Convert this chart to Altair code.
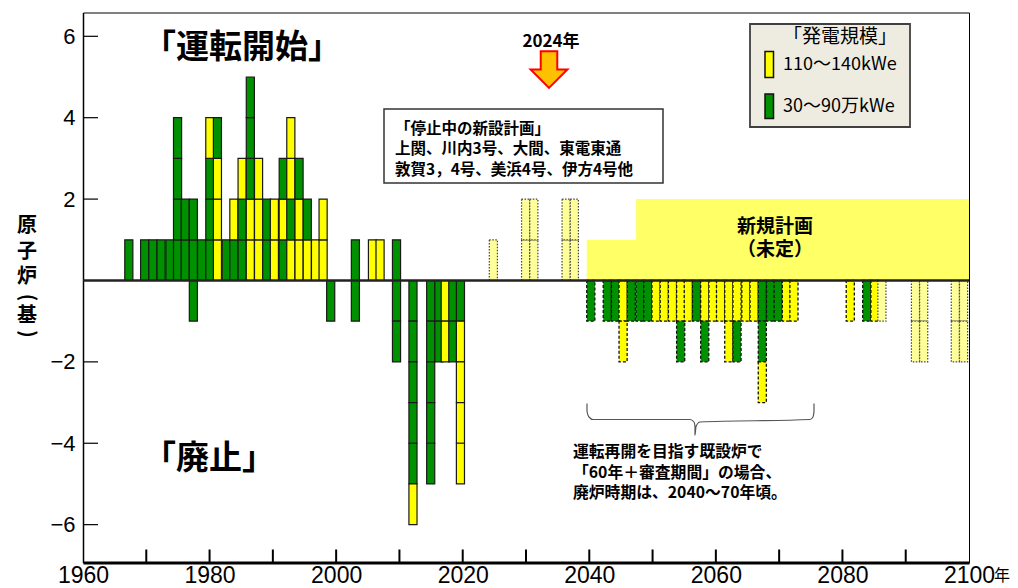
import altair as alt
import pandas as pd

# ---------------- data ----------------
# Reactors that started operation: left-edge year of each column and the
# stacked blocks bottom-up (G = 30～90万kWe green, Y = 110～140kWe yellow)
start_years = [1966.6, 1969.1, 1970.4, 1971.7, 1973.1, 1974.3, 1975.5, 1976.8,
               1978.1, 1979.4, 1980.6, 1982.0, 1983.2, 1984.5, 1985.8, 1987.1,
               1988.4, 1989.6, 1991.0, 1992.2, 1993.5, 1994.8, 1996.1, 1997.3,
               2002.4, 2005.1, 2006.3, 2008.9]
start_stacks = ["G", "G", "G", "G", "G", "GGGG", "GG", "GG",
                "G", "GGGY", "YYYG", "G", "GY", "GGY", "YYGGG", "YYY",
                "GG", "YY", "GYG", "YGYY", "YYG", "YG", "Y", "YY",
                "G", "Y", "Y", "G"]

# Decommissioned reactors (below zero)
closed_years = [1976.8, 1998.5, 2002.4, 2008.9, 2011.5, 2014.3, 2015.6, 2016.6, 2017.8, 2019.0]
closed_stacks = ["G", "G", "G", "GG", "GGGGGY", "GGGGG", "GG", "YY", "GG", "GYYYY"]

# Suspended new-build plans (pale, dotted)
plan_years = [2024.2, 2029.3, 2030.6, 2035.7, 2037.0]
plan_counts = [1, 2, 2, 2, 2]

# Future decommissioning of existing reactors aiming to restart (dashed)
future_years = [2039.6, 2042.2, 2043.5, 2044.7, 2046.0, 2047.4, 2048.6, 2049.9,
                2051.2, 2052.5, 2053.8, 2055.0, 2056.3, 2057.6, 2058.9, 2060.1,
                2061.4, 2062.7, 2064.1, 2065.4, 2066.7, 2068.0, 2069.2, 2070.5,
                2071.7, 2080.6, 2083.2, 2084.5]
future_stacks = ["G", "G", "G", "YY", "G", "G", "G", "Y",
                 "Y", "Y", "YG", "Y", "G", "YG", "Y", "Y",
                 "YY", "YG", "Y", "Y", "GGY", "G", "G", "Y",
                 "Y", "Y", "G", "Y"]

# Future decommissioning of the suspended new builds (pale, dotted)
future_plan_years = [2085.6, 2090.9, 2092.2, 2097.2, 2098.5]
future_plan_counts = [1, 2, 2, 2, 2]

# New plans (undetermined): start year and level of each step
newplan_from = [2039.6, 2047.4]
newplan_level = [1, 2]

y_tick_values = [-6, -4, -2, 2, 4, 6]
x_label_values = [1960, 1980, 2000, 2020, 2040, 2060, 2080, 2100]
x_tick_values = [1970, 1980, 1990, 2000, 2010, 2020, 2030, 2040, 2050, 2060, 2070, 2080, 2090]

y_title_chars = ["原", "子", "炉", "基"]
y_title_parens = ["(", ")"]

box1_lines = ["「停止中の新設計画」", "上関、川内3号、大間、東電東通", "敦賀3，4号、美浜4号、伊方4号他"]
note_lines = ["運転再開を目指す既設炉で", "「60年＋審査期間」の場合、", "廃炉時期は、2040～70年頃。"]
newplan_lines = ["新規計画", "（未定）"]

# ---------------- styling ----------------
W, H = 886, 550
BW = 1.28  # block width in years
GREEN, YELLOW, PALE, AREA = "#009100", "#FFFF00", "#FFFF99", "#FFFF66"
JP = "Noto Sans CJK JP"
NUM = "Liberation Sans Narrow, Liberation Sans, sans-serif"

rows = []


def add(years, stacks, sign, style):
    for yr, st in zip(years, stacks):
        for i, c in enumerate(st):
            rows.append(dict(x=yr, x2=yr + BW, y=sign * i, y2=sign * (i + 1), c=c, s=style))


add(start_years, start_stacks, 1, "solid")
add(closed_years, closed_stacks, -1, "solid")
add(plan_years, ["P" * n for n in plan_counts], 1, "dotted")
add(future_years, future_stacks, -1, "dashed")
add(future_plan_years, ["P" * n for n in future_plan_counts], -1, "dotted")
blocks = pd.DataFrame(rows)

xs = alt.Scale(domain=[1960, 2100], nice=False, zero=False)
ys = alt.Scale(domain=[-6.93, 6.585], nice=False, zero=False)
xax = alt.Axis(values=x_label_values, ticks=False, grid=False, title=None, domainWidth=3,
               domainColor="#000", labelFont=NUM, labelFontSize=23, labelColor="#000",
               labelPadding=2, format="d", labelFlush=False)
yax = alt.Axis(values=y_tick_values, ticks=False, grid=False, title=None, domainWidth=1.5,
               domainColor="#000", labelFont=NUM, labelFontSize=22, labelColor="#000",
               labelPadding=8)
fill = alt.Fill("c:N", scale=alt.Scale(domain=["G", "Y", "P"], range=[GREEN, YELLOW, PALE]), legend=None)

area_df = pd.DataFrame({"x": newplan_from, "x2": [2100] * len(newplan_from),
                        "y": [0] * len(newplan_from), "y2": newplan_level})
area = alt.Chart(area_df).mark_rect(color=AREA).encode(
    x=alt.X("x:Q", scale=xs, axis=xax), x2="x2", y=alt.Y("y:Q", scale=ys, axis=yax), y2="y2")

base = alt.Chart(blocks).encode(
    x=alt.X("x:Q", scale=xs, axis=xax), x2="x2",
    y=alt.Y("y:Q", scale=ys, axis=yax), y2="y2", fill=fill)
solid = base.transform_filter("datum.s == 'solid'").mark_rect(stroke="#1a1a1a", strokeWidth=1.2)
dashed = base.transform_filter("datum.s == 'dashed'").mark_rect(stroke="#111", strokeWidth=1.3, strokeDash=[3, 2])
dotted = base.transform_filter("datum.s == 'dotted'").mark_rect(stroke="#444", strokeWidth=1.2, strokeDash=[1.5, 1.5])

zero = alt.Chart(pd.DataFrame({"y": [0]})).mark_rule(color="#222", strokeWidth=2.5).encode(
    y=alt.Y("y:Q", scale=ys, axis=yax))

yt = alt.Chart(pd.DataFrame({"y": y_tick_values})).mark_rule(color="#000", strokeWidth=1.2).encode(
    y=alt.Y("y:Q", scale=ys, axis=yax), x=alt.value(0), x2=alt.value(15))
xt = alt.Chart(pd.DataFrame({"x": x_tick_values})).mark_rule(color="#000", strokeWidth=2).encode(
    x=alt.X("x:Q", scale=xs, axis=xax), y=alt.value(H - 13), y2=alt.value(H))

# brace (annotation shape, pixel coordinates)
brace_px = [504, 504, 506, 510, 607, 611, 612, 612, 613, 617, 727, 730, 731, 731]
brace_py = [391, 399, 404.5, 407, 407, 409.5, 414, 422.5, 414, 409.5, 407, 404.5, 399, 391]
brace = alt.Chart(pd.DataFrame({"px": brace_px, "py": brace_py, "o": list(range(len(brace_px)))})).mark_line(
    color="#555", strokeWidth=1.2, interpolate="monotone").encode(
    x=alt.X("px:Q", scale=None), y=alt.Y("py:Q", scale=None), order="o:Q")

one = pd.DataFrame({"a": [0]})


def txt(text, x, y, size, weight="normal", align="left", baseline="middle", font=JP, color="#000"):
    return alt.Chart(one).mark_text(fontSize=size, fontWeight=weight, align=align, baseline=baseline,
                                    font=font, color=color).encode(
        x=alt.value(x), y=alt.value(y), text=alt.value(text))


def lines(texts, x, y0, step, size, weight="bold", align="left"):
    df = pd.DataFrame({"t": texts, "py": [y0 + i * step for i in range(len(texts))]})
    return alt.Chart(df).mark_text(fontSize=size, fontWeight=weight, align=align, baseline="middle",
                                   font=JP, color="#000").encode(
        x=alt.value(x), y=alt.Y("py:Q", scale=None), text="t:N")


def box(x, y, x2, y2, fillc, strokec, sw):
    return alt.Chart(one).mark_rect(fill=fillc, stroke=strokec, strokeWidth=sw).encode(
        x=alt.value(x), x2=alt.value(x2), y=alt.value(y), y2=alt.value(y2))


arrow = alt.Chart(one).mark_point(
    shape="M-0.45,-1 L0.45,-1 L0.45,0 L1,0 L0,1 L-1,0 L-0.45,0 Z",
    size=1350, filled=True, fill="#FFC000", stroke="#FF0000", strokeWidth=2, opacity=1).encode(
    x=alt.value(466), y=alt.value(57))

# vertical axis title: characters stacked, brackets turned sideways
title_df = pd.DataFrame({"ch": y_title_chars, "py": [213.5, 239.5, 264.5, 303]})
ytitle = alt.Chart(title_df).mark_text(fontSize=20, fontWeight="bold", font=JP, color="#000",
                                       align="center", baseline="middle").encode(
    x=alt.value(-56), y=alt.Y("py:Q", scale=None), text="ch:N")
paren_df = pd.DataFrame({"ch": y_title_parens, "py": [285, 321.5]})
yparen = alt.Chart(paren_df).mark_text(fontSize=20, fontWeight="bold", font=JP, color="#000",
                                       align="center", baseline="middle", angle=90).encode(
    x=alt.value(-56), y=alt.Y("py:Q", scale=None), text="ch:N")

layers = [
    area, solid, dashed, dotted, zero, yt, xt, brace,
    txt("「運転開始」", 60, 35, 33, "bold"),
    txt("「廃止」", 60, 446, 33, "bold"),
    txt("2024年", 468, 29, 17, "bold", align="center"),
    arrow,
    box(301, 96.5, 580, 170.5, "#ffffff", "#333", 1.5),
    lines(box1_lines, 312, 116, 20.7, 15.5),
    lines(newplan_lines, 692, 214, 23.5, 19, align="center"),
    lines(note_lines, 490, 439.5, 20.7, 15.8),
    box(667, 11.5, 827, 114.5, "#EEECE1", "#404040", 1.8),
    txt("「発電規模」", 757, 24, 19, align="center"),
    box(682, 39, 690.5, 65, YELLOW, "#111", 1.5),
    box(682, 81.5, 690.5, 106, GREEN, "#111", 1.5),
    txt("110～140kWe", 700, 52, 18),
    txt("30～90万kWe", 700, 94, 18),
    ytitle, yparen,
    txt("年", 911, H + 13, 16, baseline="middle"),
]

chart = alt.layer(*layers).properties(
    width=W, height=H,
    padding={"left": 75, "top": 4.5, "right": 41, "bottom": 25},
    autosize=alt.AutoSizeParams(type="none"),
    background="#ffffff",
).configure_view(stroke="#000", strokeWidth=1)

chart.save("out.html", embed_options={"renderer": "svg", "actions": False})
